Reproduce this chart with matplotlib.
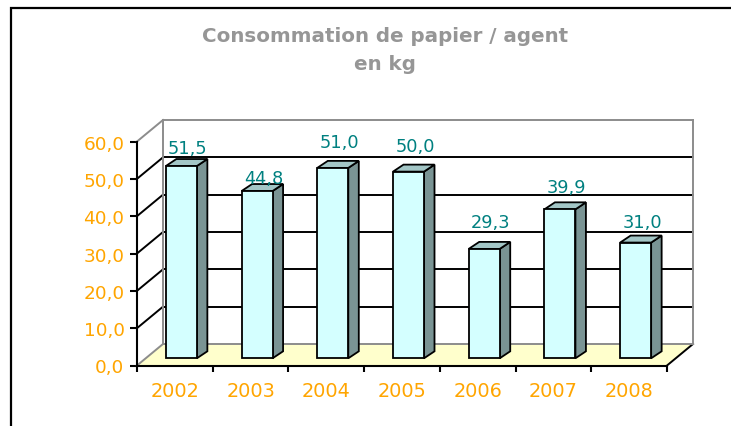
import matplotlib
matplotlib.use('Agg')
import matplotlib.pyplot as plt
from matplotlib.patches import Polygon, Rectangle
from matplotlib.ticker import FixedLocator

years = ['2002', '2003', '2004', '2005', '2006', '2007', '2008']
values = [51.5, 44.8, 51.0, 50.0, 29.3, 39.9, 31.0]
y_ticks = [0, 10, 20, 30, 40, 50, 60]
# small per-label nudges (pixels above the bar top) as placed in the source chart
label_dy = [11.5, 6.4, 19, 19, 19.6, 15.7, 13.8]

W, H = 731, 427
orange = '#FFA500'
teal = '#008080'
grey = '#8C8C8C'

fig = plt.figure(figsize=(W / 100, H / 100), dpi=100)

# outer chart frame (right / bottom edges are cropped off)
fig.add_artist(Rectangle((11 / W, -0.1), 1.2, 1.1 - 9 / H, transform=fig.transFigure,
                         fill=False, edgecolor='black', linewidth=1.6))

ax = fig.add_axes([137 / W, (H - 366.5) / H, 530 / W, 224 / H])
ax.set_xlim(0, 7)
ax.set_ylim(0, 60)
ax.patch.set_visible(False)

# depth of the 3d box, in data units
dxw, dyw = 26 / 75.7, 21.5 / 3.733
# bar geometry
bar_x0, bar_w = -9 / 75.7, 31 / 75.7
bar_yb = 1.93
ddx, ddy = 10.5 / 75.7, 1.875

# floor
ax.add_patch(Polygon([(0, 0), (7, 0), (7 + dxw, dyw), (dxw, dyw)], closed=True,
                     facecolor='#FFFFCC', edgecolor='none', zorder=1, clip_on=False))
ax.plot([7, 7 + dxw], [0, dyw], color='black', lw=1.4, zorder=2, clip_on=False)

# walls & gridlines
for v in y_ticks:
    c = grey if v in (0, 60) else 'black'
    ax.plot([dxw, 7 + dxw], [v + dyw, v + dyw], color=c, lw=1.4, zorder=2, clip_on=False)
    ax.plot([0, dxw], [v, v + dyw], color=c, lw=1.4, zorder=2, clip_on=False)
for xx in (dxw, 7 + dxw):
    ax.plot([xx, xx], [dyw, 60 + dyw], color=grey, lw=1.4, zorder=2, clip_on=False)

# bars
for i, v in enumerate(values):
    x0 = i + 0.5 + bar_x0
    x1 = x0 + bar_w
    front = Rectangle((x0, bar_yb), bar_w, v, facecolor='#D4FFFF', edgecolor='black',
                      lw=1.3, zorder=5, clip_on=False)
    side = Polygon([(x1, bar_yb), (x1 + ddx, bar_yb + ddy), (x1 + ddx, bar_yb + ddy + v),
                    (x1, bar_yb + v)], closed=True, facecolor='#7A9494', edgecolor='black',
                   lw=1.3, zorder=4, clip_on=False)
    top = Polygon([(x0, bar_yb + v), (x0 + ddx, bar_yb + v + ddy),
                   (x1 + ddx, bar_yb + v + ddy), (x1, bar_yb + v)], closed=True,
                  facecolor='#A3C6C6', edgecolor='black', lw=1.3, zorder=4, clip_on=False)
    ax.add_patch(side)
    ax.add_patch(top)
    ax.add_patch(front)
    ax.annotate(f'{v:.1f}'.replace('.', ','), xy=(i + 0.5 + 13 / 75.7, v + bar_yb + ddy),
                xytext=(0, label_dy[i] * 0.72), textcoords='offset points',
                ha='center', va='center', color=teal, fontsize=12.8, zorder=6,
                annotation_clip=False)

# axes
for s in ('top', 'right'):
    ax.spines[s].set_visible(False)
for s in ('left', 'bottom'):
    ax.spines[s].set_color('black')
    ax.spines[s].set_linewidth(1.5)
    ax.spines[s].set_zorder(7)

ax.set_yticks(y_ticks)
ax.set_yticklabels([f'{t:.1f}'.replace('.', ',') for t in y_ticks])
ax.tick_params(axis='y', length=5, width=1.5, pad=4, labelsize=13.3, labelcolor=orange)

ax.set_xticks(range(8))
ax.set_xticklabels([])
ax.xaxis.set_minor_locator(FixedLocator([i + 0.5 for i in range(7)]))
ax.set_xticklabels(years, minor=True)
ax.tick_params(axis='x', which='major', length=4, width=1.5)
ax.tick_params(axis='x', which='minor', length=0, pad=11, labelsize=13.9, labelcolor=orange)

# title
fig.text(385 / W, 1 - 42 / H, 'Consommation de papier / agent', ha='center', va='baseline',
         fontsize=14.3, fontweight='bold', color='#969696')
fig.text(385 / W, 1 - 70 / H, 'en kg', ha='center', va='baseline',
         fontsize=14.3, fontweight='bold', color='#969696')

plt.savefig('out.png', dpi=100)
